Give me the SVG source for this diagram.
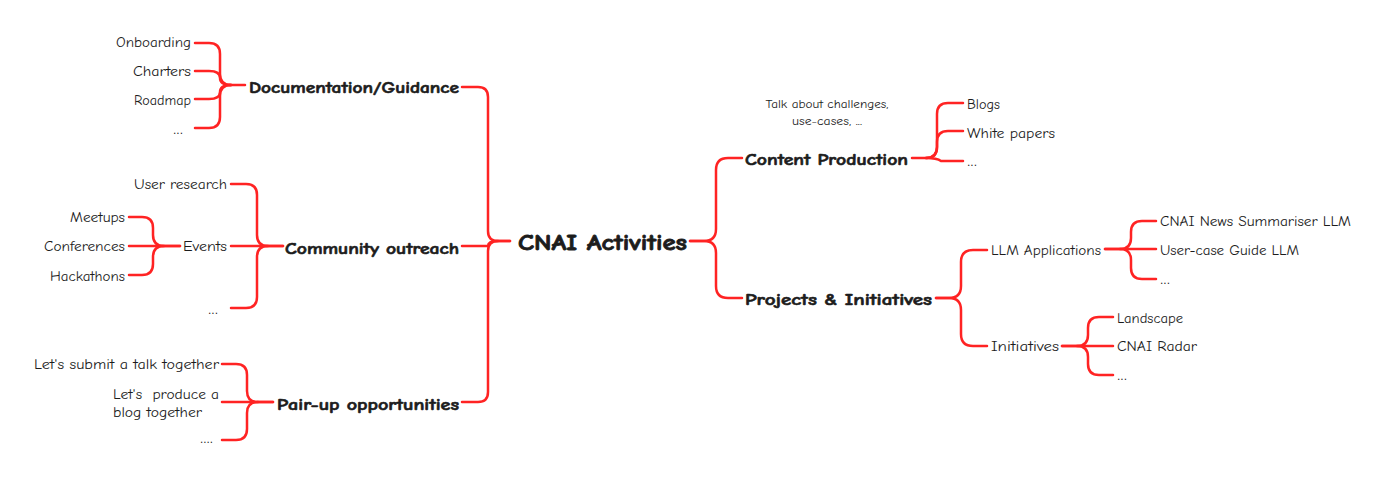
<svg xmlns="http://www.w3.org/2000/svg" width="1385" height="482" viewBox="0 0 1385 482">
<style>
text{font-family:"Comic Sans MS","Comic Neue","DejaVu Sans",sans-serif;fill:#1c1c1c}
.s{font-size:13px}
.n{font-size:11.5px}
.h{font-size:16px;font-weight:bold;stroke:#1c1c1c;stroke-width:0.6}
.c{font-size:22px;font-weight:bold;stroke:#1c1c1c;stroke-width:0.8}
.d{font-family:"DejaVu Sans",sans-serif;font-size:11px}
.e{text-anchor:end}
.m{text-anchor:middle}
#connectors path{fill:none;stroke:#ff2323;stroke-width:2.5;stroke-linecap:round;stroke-linejoin:round}
</style>
<rect width="1385" height="482" fill="#ffffff"/>
<g id="connectors">
<path d="M510 241 H498 Q488 241 488 231 V97 Q488 87 478 87 H462"/>
<path d="M498 241 Q488 241 488 246 H462"/>
<path d="M510 241 H498 Q488 241 488 251 V392 Q488 402 478 402 H462"/>
<path d="M690 241 H704 Q716 241 716 229 V170 Q716 158 728 158 H742"/>
<path d="M690 241 H704 Q716 241 716 253 V286 Q716 298 728 298 H742"/>
<path d="M912 158 H926 Q937 158 937 147 V114 Q937 103 948 103 H963"/>
<path d="M926 158 Q937 158 937 147 V142 Q937 131 948 131 H963"/>
<path d="M926 158 Q937 158 941 161 H963"/>
<path d="M936 298 H949 Q961 298 961 286 V262 Q961 250 973 250 H987"/>
<path d="M936 298 H949 Q961 298 961 310 V334 Q961 346 973 346 H987"/>
<path d="M1105 249 H1120 Q1131 249 1131 238 V232 Q1131 221 1142 221 H1156"/>
<path d="M1105 249 H1156"/>
<path d="M1120 249 Q1131 249 1131 260 V268 Q1131 279 1142 279 H1156"/>
<path d="M1062 346 H1077 Q1088 346 1088 335 V328 Q1088 317 1099 317 H1113"/>
<path d="M1062 346 H1113"/>
<path d="M1077 346 Q1088 346 1088 357 V364 Q1088 375 1099 375 H1113"/>
<path d="M245 85 H231 Q220 85 220 74 V54 Q220 43 209 43 H195"/>
<path d="M231 85 Q220 85 220 78 Q220 71 209 71 H195"/>
<path d="M231 85 Q220 85 220 92 Q220 99 209 99 H195"/>
<path d="M231 85 Q220 85 220 96 V117 Q220 128 209 128 H195"/>
<path d="M283 246 H268 Q257 246 257 235 V195 Q257 184 246 184 H231"/>
<path d="M283 246 H231"/>
<path d="M268 246 Q257 246 257 257 V297 Q257 308 246 308 H231"/>
<path d="M180 246 H164 Q153 246 153 235 V228 Q153 217 142 217 H129"/>
<path d="M180 246 H129"/>
<path d="M164 246 Q153 246 153 257 V264 Q153 275 142 275 H129"/>
<path d="M273 402 H258 Q247 402 247 391 V375 Q247 364 236 364 H222"/>
<path d="M273 402 H222"/>
<path d="M258 402 Q247 402 247 413 V429 Q247 440 236 440 H222"/>
</g>
<g id="root"><text class="c" x="518" y="250" textLength="169" lengthAdjust="spacingAndGlyphs">CNAI Activities</text></g>
<g id="doc"><text class="h" x="249" y="93" textLength="210" lengthAdjust="spacingAndGlyphs">Documentation/Guidance</text></g>
<g id="onboarding"><text class="s e" x="191" y="47" textLength="75" lengthAdjust="spacingAndGlyphs">Onboarding</text></g>
<g id="charters"><text class="s e" x="191" y="76" textLength="58" lengthAdjust="spacingAndGlyphs">Charters</text></g>
<g id="roadmap"><text class="s e" x="191" y="105" textLength="57" lengthAdjust="spacingAndGlyphs">Roadmap</text></g>
<g id="doc-more"><text class="d e" x="183" y="134" textLength="10" lengthAdjust="spacingAndGlyphs">...</text></g>
<g id="community"><text class="h" x="285" y="254" textLength="174" lengthAdjust="spacingAndGlyphs">Community outreach</text></g>
<g id="user-research"><text class="s e" x="227" y="189" textLength="93" lengthAdjust="spacingAndGlyphs">User research</text></g>
<g id="events"><text class="s e" x="227" y="251" textLength="44" lengthAdjust="spacingAndGlyphs">Events</text></g>
<g id="community-more"><text class="d e" x="218" y="314" textLength="10" lengthAdjust="spacingAndGlyphs">...</text></g>
<g id="meetups"><text class="s e" x="125" y="222" textLength="55" lengthAdjust="spacingAndGlyphs">Meetups</text></g>
<g id="conferences"><text class="s e" x="125" y="251" textLength="81" lengthAdjust="spacingAndGlyphs">Conferences</text></g>
<g id="hackathons"><text class="s e" x="125" y="281" textLength="75" lengthAdjust="spacingAndGlyphs">Hackathons</text></g>
<g id="pairup"><text class="h" x="277" y="410" textLength="182" lengthAdjust="spacingAndGlyphs">Pair-up opportunities</text></g>
<g id="talk"><text class="s e" x="219" y="369" textLength="185" lengthAdjust="spacingAndGlyphs">Let's submit a talk together</text></g>
<g id="blog"><text class="s" x="113" y="399" textLength="106" lengthAdjust="spacingAndGlyphs" xml:space="preserve">Let's  produce a</text><text class="s" x="113" y="417" textLength="89" lengthAdjust="spacingAndGlyphs">blog together</text></g>
<g id="pairup-more"><text class="d e" x="213" y="443" textLength="13" lengthAdjust="spacingAndGlyphs">....</text></g>
<g id="content"><text class="h" x="745" y="165" textLength="163" lengthAdjust="spacingAndGlyphs">Content Production</text></g>
<g id="content-note"><text class="n m" x="827" y="108" textLength="123" lengthAdjust="spacingAndGlyphs">Talk about challenges,</text><text class="n m" x="827" y="125" textLength="70" lengthAdjust="spacingAndGlyphs">use-cases, ...</text></g>
<g id="blogs"><text class="s" x="967" y="109" textLength="33" lengthAdjust="spacingAndGlyphs">Blogs</text></g>
<g id="white-papers"><text class="s" x="967" y="138" textLength="88" lengthAdjust="spacingAndGlyphs">White papers</text></g>
<g id="content-more"><text class="d" x="967" y="166" textLength="10" lengthAdjust="spacingAndGlyphs">...</text></g>
<g id="projects"><text class="h" x="745" y="305" textLength="187" lengthAdjust="spacingAndGlyphs">Projects &amp; Initiatives</text></g>
<g id="llm-apps"><text class="s" x="991" y="255" textLength="110" lengthAdjust="spacingAndGlyphs">LLM Applications</text></g>
<g id="initiatives"><text class="s" x="991" y="351" textLength="68" lengthAdjust="spacingAndGlyphs">Initiatives</text></g>
<g id="news-llm"><text class="s" x="1160" y="226" textLength="191" lengthAdjust="spacingAndGlyphs">CNAI News Summariser LLM</text></g>
<g id="guide-llm"><text class="s" x="1160" y="255" textLength="139" lengthAdjust="spacingAndGlyphs">User-case Guide LLM</text></g>
<g id="llm-more"><text class="d" x="1160" y="284" textLength="10" lengthAdjust="spacingAndGlyphs">...</text></g>
<g id="landscape"><text class="s" x="1117" y="323" textLength="66" lengthAdjust="spacingAndGlyphs">Landscape</text></g>
<g id="radar"><text class="s" x="1117" y="351" textLength="80" lengthAdjust="spacingAndGlyphs">CNAI Radar</text></g>
<g id="init-more"><text class="d" x="1117" y="380" textLength="10" lengthAdjust="spacingAndGlyphs">...</text></g>
</svg>
